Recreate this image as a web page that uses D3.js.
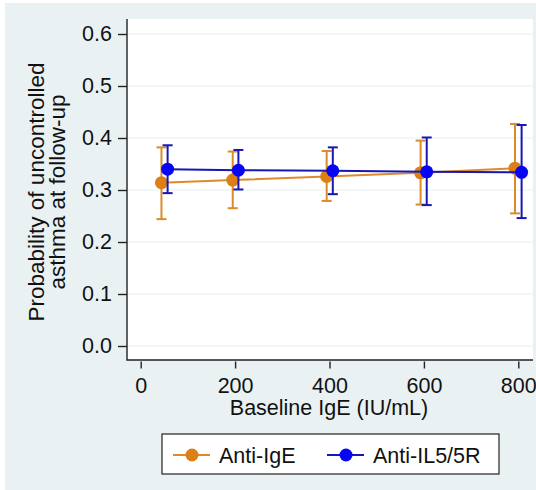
<!DOCTYPE html>
<html>
<head>
<meta charset="utf-8">
<script src="https://cdn.jsdelivr.net/npm/d3@7"></script>
<style>
  body { margin: 0; background: #fff; }
  text { font-family: "Liberation Sans", Arial, sans-serif; fill: #111; }
</style>
</head>
<body>
<div class="canvas"></div>
<script>
// values
const yTicks = [0, 0.1, 0.2, 0.3, 0.4, 0.5, 0.6];
const xTicks = [0, 200, 400, 600, 800];

const igeX = [44, 195, 394, 593, 793];
const igeP = [0.314, 0.319, 0.326, 0.333, 0.342];
const igeLo = [0.244, 0.265, 0.279, 0.272, 0.255];
const igeHi = [0.382, 0.374, 0.375, 0.395, 0.427];

const il5X = [57, 207, 407, 606, 807];
const il5P = [0.340, 0.338, 0.337, 0.335, 0.334];
const il5Lo = [0.294, 0.301, 0.292, 0.271, 0.246];
const il5Hi = [0.386, 0.377, 0.382, 0.401, 0.425];

const seriesNames = ['Anti-IgE', 'Anti-IL5/5R'];

const dims = {
    width: 536,
    height: 490,
    plotLeft: 127,
    plotRight: 533,
    plotTop: 19,
    plotBottom: 360,
    fontSize: 21.5
};

const colours = [
    { line: '#dd8a2c', marker: '#dc7f14' },
    { line: '#1717b8', marker: '#0606f2' }
];

const svg = d3.select('.canvas')
    .append('svg')
    .attr('width', dims.width)
    .attr('height', dims.height);

// outer background
svg.append('rect')
    .attr('x', 5).attr('y', 3)
    .attr('width', dims.width - 5).attr('height', dims.height - 3)
    .attr('fill', '#eaf1f3');

svg.append('rect')
    .attr('x', dims.plotLeft).attr('y', dims.plotTop)
    .attr('width', dims.plotRight - dims.plotLeft)
    .attr('height', dims.plotBottom - dims.plotTop)
    .attr('fill', '#fff');

const x = d3.scaleLinear().domain([0, 800]).range([140.7, 518.3]);
const y = d3.scaleLinear().domain([0, 0.6]).range([346, 34]);

// grid
svg.append('g')
    .selectAll('line')
    .data(yTicks)
    .enter()
    .append('line')
    .attr('x1', dims.plotLeft)
    .attr('x2', dims.plotRight)
    .attr('y1', d => y(d))
    .attr('y2', d => y(d))
    .attr('stroke', '#e6eff1')
    .attr('stroke-width', 1.2);

// axes
const yAxis = svg.append('g')
    .attr('transform', `translate(${dims.plotLeft},0)`)
    .call(d3.axisLeft(y).tickValues(yTicks).tickFormat(d3.format('.1f')).tickSize(9).tickPadding(6));

const xAxis = svg.append('g')
    .attr('transform', `translate(0,${dims.plotBottom + 1.5})`)
    .call(d3.axisBottom(x).tickValues(xTicks).tickSize(7).tickPadding(9));

[yAxis, xAxis].forEach(ax => {
    ax.select('.domain').remove();
    ax.selectAll('line').attr('stroke', '#222').attr('stroke-width', 1.4);
    ax.selectAll('text')
        .style('font-size', dims.fontSize + 'px')
        .attr('fill', '#111');
});

svg.append('path')
    .attr('d', `M${dims.plotLeft},${dims.plotTop}V${dims.plotBottom}H${dims.plotRight}`)
    .attr('fill', 'none')
    .attr('stroke', '#222')
    .attr('stroke-width', 1.4);

// axis titles
svg.append('text')
    .attr('x', 329)
    .attr('y', 415)
    .attr('text-anchor', 'middle')
    .style('font-size', dims.fontSize + 'px')
    .text('Baseline IgE (IU/mL)');

const yTitle = svg.append('text')
    .attr('transform', 'translate(44,192) rotate(-90)')
    .attr('text-anchor', 'middle')
    .style('font-size', '22.5px');
yTitle.append('tspan').attr('x', 0).attr('y', 0).text('Probability of uncontrolled');
yTitle.append('tspan').attr('x', 0).attr('y', 21).text('asthma at follow-up');

// series
const series = [
    { xs: igeX, p: igeP, lo: igeLo, hi: igeHi },
    { xs: il5X, p: il5P, lo: il5Lo, hi: il5Hi }
].map(s => s.xs.map((v, i) => ({ x: v, p: s.p[i], lo: s.lo[i], hi: s.hi[i] })));

const line = d3.line().x(d => x(d.x)).y(d => y(d.p));

series.forEach((data, k) => {
    const g = svg.append('g');
    const col = colours[k];
    const cap = 5;

    const bars = g.selectAll('.ci').data(data).enter().append('g').attr('class', 'ci')
        .attr('stroke', col.line).attr('stroke-width', 2);
    bars.append('line')
        .attr('x1', d => x(d.x)).attr('x2', d => x(d.x))
        .attr('y1', d => y(d.lo)).attr('y2', d => y(d.hi));
    bars.append('line')
        .attr('x1', d => x(d.x) - cap).attr('x2', d => x(d.x) + cap)
        .attr('y1', d => y(d.lo)).attr('y2', d => y(d.lo));
    bars.append('line')
        .attr('x1', d => x(d.x) - cap).attr('x2', d => x(d.x) + cap)
        .attr('y1', d => y(d.hi)).attr('y2', d => y(d.hi));

    g.append('path')
        .datum(data)
        .attr('d', line)
        .attr('fill', 'none')
        .attr('stroke', col.line)
        .attr('stroke-width', 2);

    g.selectAll('circle').data(data).enter().append('circle')
        .attr('cx', d => x(d.x))
        .attr('cy', d => y(d.p))
        .attr('r', 6.5)
        .attr('fill', col.marker);
});

// legend
const legend = svg.append('g');
legend.append('rect')
    .attr('x', 162).attr('y', 434)
    .attr('width', 337).attr('height', 40)
    .attr('fill', '#fff')
    .attr('stroke', '#222')
    .attr('stroke-width', 1.2);

const legendX = [173, 327];
seriesNames.forEach((name, k) => {
    const lx = legendX[k];
    legend.append('line')
        .attr('x1', lx).attr('x2', lx + 37)
        .attr('y1', 455).attr('y2', 455)
        .attr('stroke', colours[k].line)
        .attr('stroke-width', 2);
    legend.append('circle')
        .attr('cx', lx + 19).attr('cy', 455).attr('r', 6.5)
        .attr('fill', colours[k].marker);
    legend.append('text')
        .attr('x', lx + 46).attr('y', 463)
        .style('font-size', dims.fontSize + 'px')
        .text(name);
});
</script>
</body>
</html>
